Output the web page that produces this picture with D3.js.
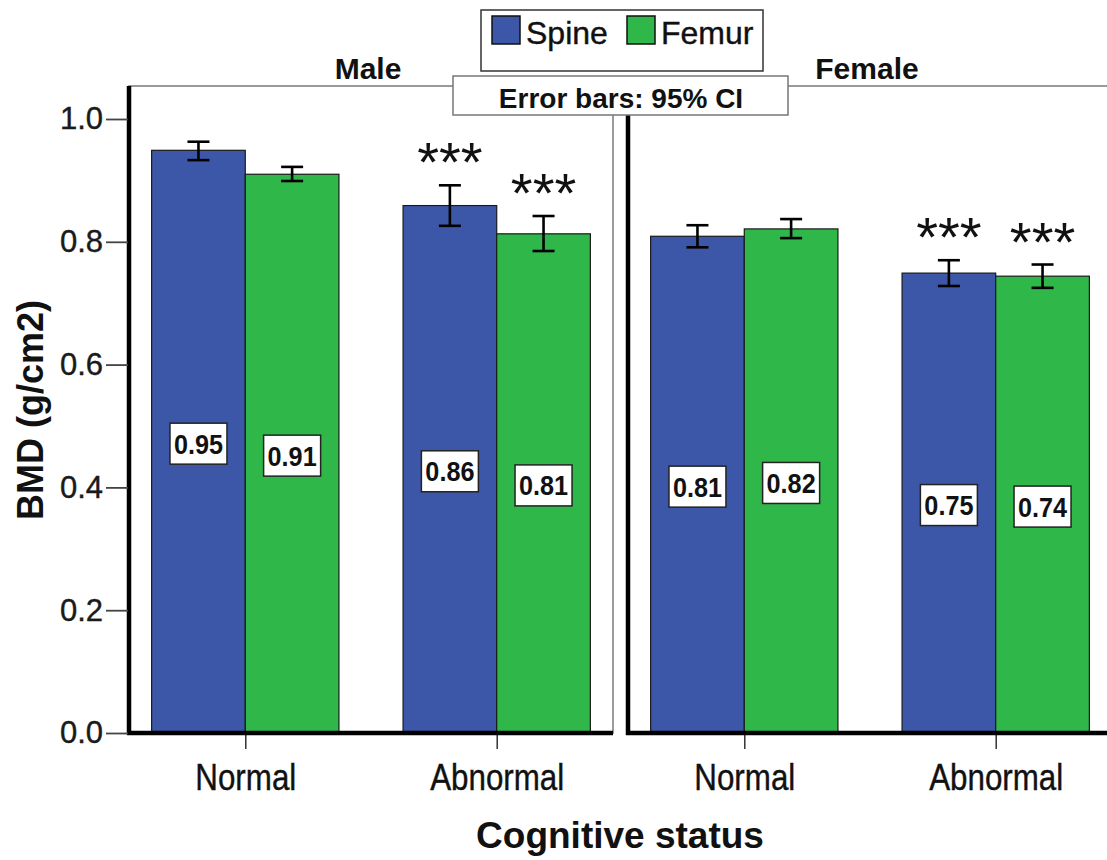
<!DOCTYPE html>
<html>
<head>
<meta charset="utf-8">
<script src="https://cdn.jsdelivr.net/npm/d3@7/dist/d3.min.js"></script>
<style>
  html, body { margin: 0; padding: 0; background: #fff; }
  svg { display: block; font-family: "Liberation Sans", Arial, sans-serif; }
</style>
</head>
<body>
<svg id="chart" width="1107" height="860"></svg>
<script>
// ---- data ----
const panels = ["Male", "Female"];
const categories = ["Normal", "Abnormal"];
const seriesNames = ["Spine", "Femur"];
const seriesColors = ["#3d57a8", "#2fb74a"];
const maleSpine = [0.949, 0.859];
const maleFemur = [0.910, 0.813];
const femaleSpine = [0.809, 0.749];
const femaleFemur = [0.821, 0.744];
// 95% CI lower / upper
const maleSpineLo = [0.933, 0.826];
const maleSpineHi = [0.963, 0.892];
const maleFemurLo = [0.899, 0.785];
const maleFemurHi = [0.922, 0.842];
const femaleSpineLo = [0.791, 0.728];
const femaleSpineHi = [0.827, 0.770];
const femaleFemurLo = [0.806, 0.725];
const femaleFemurHi = [0.837, 0.763];
// significance markers
const maleStars = [["", ""], ["***", "***"]];
const femaleStars = [["", ""], ["***", "***"]];
const yTicks = [0.0, 0.2, 0.4, 0.6, 0.8, 1.0];

const rows = [];
function addRows(panel, spine, femur, sLo, sHi, fLo, fHi, stars) {
  categories.forEach((c, i) => {
    rows.push({panel, cat: c, series: "Spine", v: spine[i], lo: sLo[i], hi: sHi[i], star: stars[i][0]});
    rows.push({panel, cat: c, series: "Femur", v: femur[i], lo: fLo[i], hi: fHi[i], star: stars[i][1]});
  });
}
addRows("Male", maleSpine, maleFemur, maleSpineLo, maleSpineHi, maleFemurLo, maleFemurHi, maleStars);
addRows("Female", femaleSpine, femaleFemur, femaleSpineLo, femaleSpineHi, femaleFemurLo, femaleFemurHi, femaleStars);

// ---- layout ----
const svg = d3.select("#chart");
const plotTop = 86, plotBottom = 733;
const panelLeft = {Male: 129, Female: 628};
const panelW = 484;

const y = d3.scaleLinear().domain([0, 1]).range([plotBottom, 119]);
const xCat = d3.scaleBand().domain(categories).range([0, panelW]).paddingInner(0.255).paddingOuter(0.09);
const xSer = d3.scaleBand().domain(seriesNames).range([0, xCat.bandwidth()]);
const color = d3.scaleOrdinal().domain(seriesNames).range(seriesColors);

function condense(sel, f) {
  sel.each(function() {
    const len = this.getComputedTextLength();
    d3.select(this).attr("textLength", len * f).attr("lengthAdjust", "spacingAndGlyphs");
  });
}

panels.forEach(p => {
  const x0 = panelLeft[p];
  svg.append("rect").attr("x", x0).attr("y", plotTop).attr("width", panelW).attr("height", plotBottom - plotTop)
    .attr("fill", "none").attr("stroke", "#7a7a7a").attr("stroke-width", 1.5);
});

panels.forEach(p => {
  const g = svg.append("g").attr("transform", `translate(${panelLeft[p]},0)`);
  const data = rows.filter(r => r.panel === p);

  g.selectAll("rect.bar").data(data).join("rect").attr("class", "bar")
    .attr("x", d => xCat(d.cat) + xSer(d.series))
    .attr("y", d => y(d.v))
    .attr("width", xSer.bandwidth())
    .attr("height", d => y(0) - y(d.v))
    .attr("fill", d => color(d.series))
    .attr("stroke", "#1a1a1a").attr("stroke-width", 1.2);

  const cx = d => xCat(d.cat) + xSer(d.series) + xSer.bandwidth() / 2;
  const eb = g.selectAll("g.eb").data(data).join("g").attr("class", "eb")
    .attr("stroke", "#000").attr("stroke-width", 2.6);
  eb.append("line").attr("x1", cx).attr("x2", cx).attr("y1", d => y(d.lo)).attr("y2", d => y(d.hi));
  eb.append("line").attr("x1", d => cx(d) - 11).attr("x2", d => cx(d) + 11).attr("y1", d => y(d.lo)).attr("y2", d => y(d.lo));
  eb.append("line").attr("x1", d => cx(d) - 11).attr("x2", d => cx(d) + 11).attr("y1", d => y(d.hi)).attr("y2", d => y(d.hi));

  g.selectAll("text.star").data(data.filter(d => d.star)).join("text").attr("class", "star")
    .attr("x", cx).attr("y", d => y(d.hi) - 4)
    .attr("text-anchor", "middle").attr("font-size", 56).attr("fill", "#111")
    .text(d => d.star);

  const lab = g.selectAll("g.lab").data(data).join("g").attr("class", "lab")
    .attr("transform", d => `translate(${cx(d)},${(y(d.v) + y(0)) / 2 + 2})`);
  lab.append("rect").attr("x", -28.5).attr("y", -20.5).attr("width", 57).attr("height", 41)
    .attr("fill", "#fff").attr("stroke", "#222").attr("stroke-width", 1.5);
  const lt = lab.append("text").attr("text-anchor", "middle").attr("y", 10)
    .attr("font-size", 28).attr("font-weight", "bold").attr("fill", "#111")
    .text(d => d3.format(".2f")(d.v));
  condense(lt, 0.9);

  const xa = d3.axisBottom(d3.scalePoint().domain(categories)
      .range([xCat(categories[0]) + xCat.bandwidth() / 2, xCat(categories[1]) + xCat.bandwidth() / 2]))
    .tickSize(16).tickPadding(10);
  const xg = g.append("g").attr("transform", `translate(0,${plotBottom})`).call(xa);
  xg.select(".domain").remove();
  xg.selectAll(".tick line").attr("stroke", "#333").attr("stroke-width", 1.5);
  const xt = xg.selectAll(".tick text").attr("font-size", 36).attr("fill", "#111")
    .attr("stroke", "#111").attr("stroke-width", 0.4)
    .attr("font-family", "'Liberation Sans', Arial, sans-serif").attr("dy", "0.86em");
  condense(xt, 0.87);

  g.append("line").attr("x1", 0).attr("x2", 0).attr("y1", plotTop).attr("y2", plotBottom + 2)
    .attr("stroke", "#000").attr("stroke-width", 4.5);
  g.append("line").attr("x1", -2).attr("x2", panelW).attr("y1", plotBottom).attr("y2", plotBottom)
    .attr("stroke", "#000").attr("stroke-width", 4.5);

  g.append("text").attr("x", panelW / 2 - 3).attr("y", 79).attr("text-anchor", "middle")
    .attr("font-size", 30).attr("font-weight", "bold").attr("fill", "#111").text(p);
});

const ya = d3.axisLeft(y).tickValues(yTicks).tickFormat(d3.format(".1f")).tickSize(22).tickPadding(3);
const yg = svg.append("g").attr("transform", `translate(${panelLeft.Male - 1},0)`).call(ya);
yg.select(".domain").remove();
yg.selectAll(".tick line").attr("stroke", "#444").attr("stroke-width", 1.8);
yg.selectAll(".tick text").attr("font-size", 31).attr("fill", "#1a1a1a")
  .attr("stroke", "#1a1a1a").attr("stroke-width", 0.4)
  .attr("font-family", "'Liberation Sans', Arial, sans-serif");

svg.append("text").attr("transform", "translate(43,410) rotate(-90)").attr("text-anchor", "middle")
  .attr("font-size", 36).attr("font-weight", "bold").attr("fill", "#111").text("BMD (g/cm2)");
svg.append("text").attr("x", 620).attr("y", 848).attr("text-anchor", "middle")
  .attr("font-size", 37).attr("font-weight", "bold").attr("fill", "#111").text("Cognitive status");

svg.append("rect").attr("x", 453).attr("y", 76).attr("width", 335).attr("height", 39)
  .attr("fill", "#fff").attr("stroke", "#777").attr("stroke-width", 1.5);
svg.append("text").attr("x", 621).attr("y", 108).attr("text-anchor", "middle")
  .attr("font-size", 28).attr("font-weight", "bold").attr("fill", "#111").text("Error bars: 95% CI");

const lg = svg.append("g");
lg.append("rect").attr("x", 481).attr("y", 10).attr("width", 282).attr("height", 61)
  .attr("fill", "#fff").attr("stroke", "#333").attr("stroke-width", 1.5);
const legX = [492, 627];
seriesNames.forEach((s, i) => {
  lg.append("rect").attr("x", legX[i]).attr("y", 16).attr("width", 28).attr("height", 28)
    .attr("fill", color(s)).attr("stroke", "#111").attr("stroke-width", 1.5);
  lg.append("text").attr("x", legX[i] + 34).attr("y", 44).attr("font-size", 32).attr("fill", "#111")
    .attr("stroke", "#111").attr("stroke-width", 0.4).text(s);
});
</script>
</body>
</html>
